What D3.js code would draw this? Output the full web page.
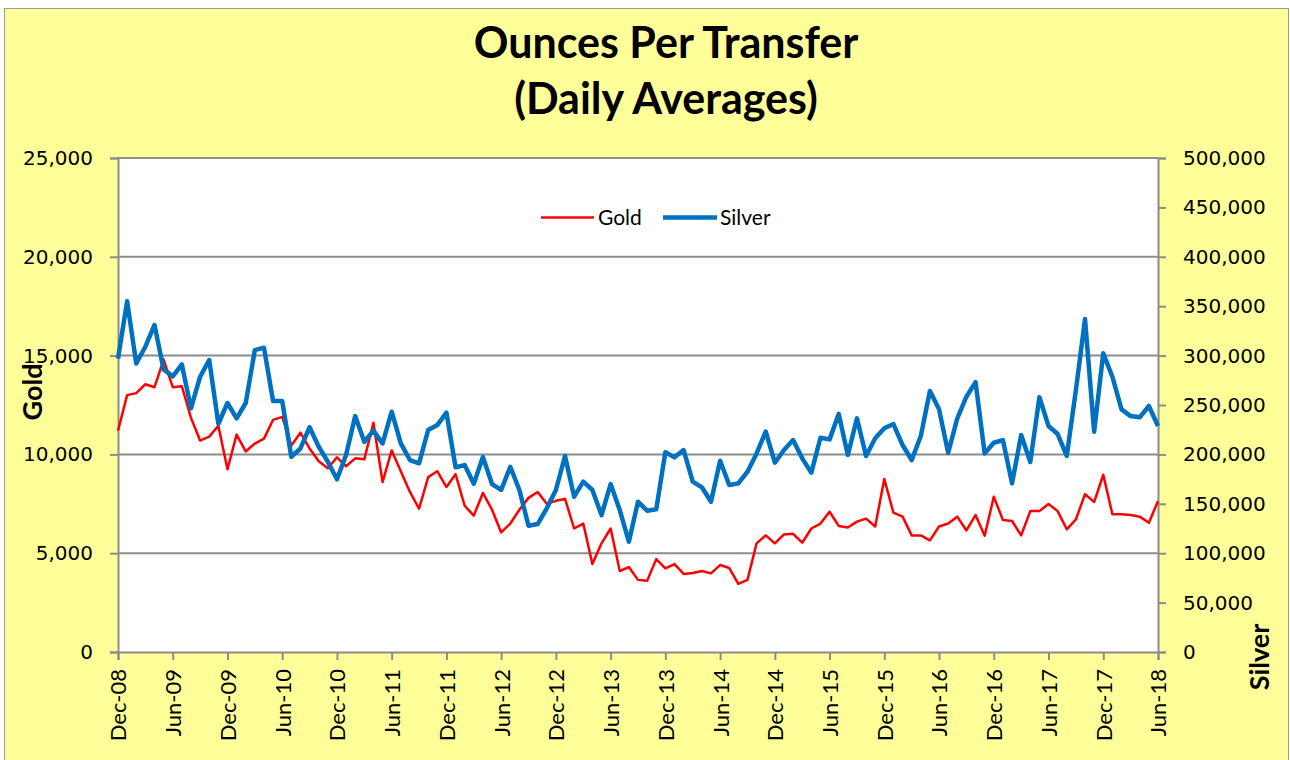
<!DOCTYPE html>
<html>
<head>
<meta charset="utf-8">
<script src="https://cdn.jsdelivr.net/npm/d3@7/dist/d3.min.js"></script>
<style>
  html, body { margin: 0; padding: 0; background: #ffffff; }
  svg { display: block; }
</style>
</head>
<body>
<svg id="chart" width="1290" height="760"></svg>
<script>
// ---------------- DATA ----------------
const titleLines = ["Ounces Per Transfer", "(Daily Averages)"];
const seriesNames = ["Gold", "Silver"];

// Monthly categories Dec-08 .. Jun-18 (115 months)
const fmtMonth = d3.timeFormat("%b-%y");
const months = d3.timeMonth.range(new Date(2008, 11, 1), new Date(2018, 6, 1)).map(fmtMonth);

const xTickLabels = ["Dec-08","Jun-09","Dec-09","Jun-10","Dec-10","Jun-11","Dec-11","Jun-12",
  "Dec-12","Jun-13","Dec-13","Jun-14","Dec-14","Jun-15","Dec-15","Jun-16","Dec-16","Jun-17","Dec-17","Jun-18"];
const goldTicks = [0, 5000, 10000, 15000, 20000, 25000];
const silverTicks = [0, 50000, 100000, 150000, 200000, 250000, 300000, 350000, 400000, 450000, 500000];

const gold = [
  11200, 13000, 13100, 13550, 13400, 14800, 13400, 13450, 11850, 10700,
  10900, 11450, 9250, 11000, 10150, 10550, 10800, 11750, 11900, 10450,
  11100, 10300, 9650, 9300, 9850, 9400, 9800, 9750, 11600, 8600,
  10200, 9150, 8100, 7250, 8850, 9150, 8350, 9000, 7400, 6900,
  8050, 7200, 6050, 6500, 7200, 7800, 8100, 7500, 7650, 7750,
  6250, 6500, 4450, 5500, 6250, 4100, 4300, 3650, 3600, 4700,
  4230, 4450, 3950, 4000, 4100, 3980, 4400, 4250, 3450, 3650,
  5500, 5900, 5500, 5950, 5980, 5530, 6250, 6500, 7100, 6380,
  6300, 6600, 6750, 6350, 8750, 7050, 6850, 5900, 5900, 5650,
  6350, 6500, 6850, 6150, 6930, 5880, 7860, 6680, 6630, 5900,
  7130, 7130, 7490, 7130, 6210, 6710, 7990, 7590, 8970, 6970,
  6970, 6930, 6850, 6540, 7640
];

const silver = [
  297000, 355000, 292000, 309000, 331000, 286000, 279000, 291000, 246600, 278600,
  295500, 231000, 252000, 236500, 252000, 305600, 308000, 254000, 254000, 197600,
  206000, 227500, 207800, 192600, 174800, 199400, 238800, 212800, 224000, 211200,
  243200, 211200, 194300, 191000, 224700, 229700, 242200, 187000, 189200, 170200,
  197300, 170000, 164000, 187500, 164000, 127800, 129500, 145400, 164000, 198400,
  157200, 172400, 164000, 138600, 170000, 143700, 111600, 152100, 143000, 144400,
  202200, 197000, 204400, 172400, 166700, 152100, 193600, 169000, 170700, 182500,
  201000, 223000, 191600, 204400, 214500, 196000, 181500, 216800, 215200, 241000,
  199400, 236500, 198400, 216300, 226400, 230700, 209500, 194300, 218600, 264100,
  245600, 201700, 236500, 258400, 273200, 201000, 211800, 214500, 170700, 219600,
  192300, 257800, 228700, 220600, 198400, 265100, 337000, 223000, 302300, 278600,
  245600, 238800, 237500, 249000, 228700
];

// ---------------- LAYOUT ----------------
const plot = { left: 118, right: 1158, top: 158, bottom: 652 };
const colors = { gold: "#FF0000", silver: "#0070C0", bg: "#FFFF99", grid: "#8C8C8C" };

const svg = d3.select("#chart");

// Chart area background
svg.append("rect")
  .attr("x", 4.5).attr("y", 8.5).attr("width", 1284).attr("height", 760)
  .attr("fill", colors.bg).attr("stroke", "#9a9a9a").attr("stroke-width", 1);

// Plot area
svg.append("rect")
  .attr("x", plot.left).attr("y", plot.top)
  .attr("width", plot.right - plot.left).attr("height", plot.bottom - plot.top)
  .attr("fill", "#ffffff");

// Scales
const x = d3.scalePoint().domain(months).range([plot.left, plot.right]);
const yG = d3.scaleLinear().domain([0, 25000]).range([plot.bottom, plot.top]);
const yS = d3.scaleLinear().domain([0, 500000]).range([plot.bottom, plot.top]);

// Gridlines
svg.append("g").selectAll("line").data(goldTicks.slice(1)).join("line")
  .attr("x1", plot.left).attr("x2", plot.right)
  .attr("y1", d => yG(d)).attr("y2", d => yG(d))
  .attr("stroke", colors.grid).attr("stroke-width", 2);

// Axes
const tickFont = "'DejaVu Sans', Verdana, sans-serif";
const labelFont = "Lato, 'Open Sans', sans-serif";

const gLeft = svg.append("g").attr("transform", `translate(${plot.left},0)`)
  .call(d3.axisLeft(yG).tickValues(goldTicks).tickSize(8).tickPadding(17).tickFormat(d3.format(",")));
const gRight = svg.append("g").attr("transform", `translate(${plot.right},0)`)
  .call(d3.axisRight(yS).tickValues(silverTicks).tickSize(8).tickPadding(17).tickFormat(d3.format(",")));
const gBottom = svg.append("g").attr("transform", `translate(0,${plot.bottom})`)
  .call(d3.axisBottom(x).tickValues(xTickLabels).tickSize(8));

[gLeft, gRight, gBottom].forEach(g => {
  g.select(".domain").attr("stroke", colors.grid).attr("stroke-width", 2);
  g.selectAll(".tick line").attr("stroke", colors.grid).attr("stroke-width", 2);
});
[gLeft, gRight].forEach(g => {
  g.selectAll(".tick text").attr("font-family", tickFont).attr("font-size", 20).attr("fill", "#000");
});
gBottom.selectAll(".tick text")
  .attr("font-family", labelFont).attr("font-size", 22).attr("fill", "#000")
  .attr("transform", "rotate(-90)")
  .attr("text-anchor", "end")
  .attr("x", -17).attr("y", 0).attr("dy", "0.36em");

// Lines
const lineG = d3.line().x((d, i) => x(months[i])).y(d => yG(d));
const lineS = d3.line().x((d, i) => x(months[i])).y(d => yS(d));

svg.append("path").datum(gold)
  .attr("d", lineG).attr("fill", "none")
  .attr("stroke", colors.gold).attr("stroke-width", 2.5).attr("stroke-linejoin", "round");
svg.append("path").datum(silver)
  .attr("d", lineS).attr("fill", "none")
  .attr("stroke", colors.silver).attr("stroke-width", 4.5).attr("stroke-linejoin", "round");

// Title
svg.append("text").attr("x", 666).attr("y", 58)
  .attr("text-anchor", "middle").attr("font-family", labelFont)
  .attr("font-weight", "bold").attr("font-size", 43).attr("fill", "#000")
  .text(titleLines[0]);
svg.append("text").attr("x", 666).attr("y", 114)
  .attr("text-anchor", "middle").attr("font-family", labelFont)
  .attr("font-weight", "bold").attr("font-size", 43).attr("fill", "#000")
  .text(titleLines[1]);

// Axis titles
svg.append("text").attr("transform", "translate(42,392) rotate(-90)")
  .attr("text-anchor", "middle").attr("font-family", labelFont)
  .attr("font-weight", "bold").attr("font-size", 27).attr("fill", "#000")
  .text(seriesNames[0]);
svg.append("text").attr("transform", "translate(1269,657) rotate(-90)")
  .attr("text-anchor", "middle").attr("font-family", labelFont)
  .attr("font-weight", "bold").attr("font-size", 27).attr("fill", "#000")
  .text(seriesNames[1]);

// Legend
const legend = [
  { name: seriesNames[0], color: colors.gold, w: 2.5, x1: 541, x2: 594, tx: 598 },
  { name: seriesNames[1], color: colors.silver, w: 4.5, x1: 663, x2: 717, tx: 720 }
];
const lg = svg.append("g");
legend.forEach(l => {
  lg.append("line").attr("x1", l.x1).attr("x2", l.x2).attr("y1", 217.5).attr("y2", 217.5)
    .attr("stroke", l.color).attr("stroke-width", l.w);
  lg.append("text").attr("x", l.tx).attr("y", 217.5).attr("dy", "0.35em")
    .attr("font-family", labelFont).attr("font-size", 21).attr("fill", "#000")
    .text(l.name);
});
</script>
</body>
</html>
